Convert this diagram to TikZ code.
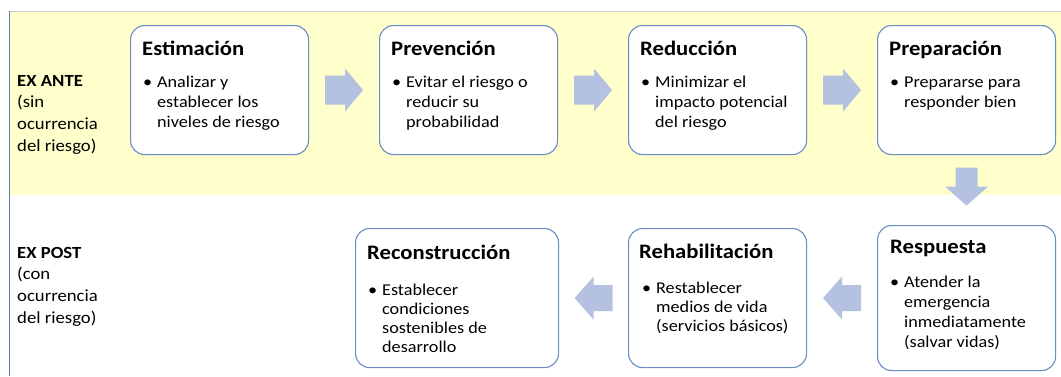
\documentclass[tikz,border=0pt]{standalone}
\usepackage{fontspec}
\setmainfont{Carlito}[FakeStretch=1.1]
\usetikzlibrary{calc}
\definecolor{bandyellow}{HTML}{FFFFCC}
\definecolor{boxline}{HTML}{6A8CC7}
\definecolor{arrowfill}{HTML}{B4C1E0}
\definecolor{topline}{HTML}{C3CFCF}
\definecolor{leftline}{HTML}{5B7BB0}
\newcommand\bulitem[1]{\parbox[t]{175pt}{\hangindent=14pt\hangafter=1\noindent\makebox[14pt][l]{\textbullet}#1}}
\newcommand\sidelabel[1]{\parbox[t]{100pt}{#1}}
\tikzset{
  stagebox/.style={draw=boxline, line width=1.1pt, rounded corners=14pt, fill=white,
    anchor=north west, inner sep=0pt},
  titletext/.style={anchor=base west, inner sep=0pt, font=\fontsize{20.6}{23}\selectfont\bfseries},
  bullettext/.style={anchor=base west, inner sep=0pt, font=\fontsize{16.5}{20}\selectfont},
  sidetext/.style={anchor=base west, inner sep=0pt, font=\fontsize{17}{21.8}\selectfont},
  rarr/.pic={\fill[arrowfill] (-19,-14.5) -- (1,-14.5) -- (1,-21.5) -- (19,0) -- (1,21.5) -- (1,14.5) -- (-19,14.5) -- cycle;},
  larr/.pic={\fill[arrowfill] (19,-13) -- (0,-13) -- (0,-21.5) -- (-19,0) -- (0,21.5) -- (0,13) -- (19,13) -- cycle;},
  darr/.pic={\fill[arrowfill] (-11,-19) -- (11,-19) -- (11,0) -- (21.5,0) -- (0,19) -- (-21.5,0) -- (-11,0) -- cycle;}
}
\begin{document}
\begin{tikzpicture}[x=1pt,y=-1pt]
\useasboundingbox (0,0) rectangle (1061,376);
% background band
\fill[bandyellow] (9,11) rectangle (1061,195);
\draw[topline, line width=0.8pt] (9,11) -- (1061,11);
\draw[leftline, line width=0.9pt] (9,11) -- (9,376);

% side labels
\node[sidetext] (ante) at (17,86) {\sidelabel{\textbf{EX ANTE}\\(sin\\ocurrencia\\del riesgo)}};
\node[sidetext] (post) at (17,258) {\sidelabel{\textbf{EX POST}\\(con\\ocurrencia\\del riesgo)}};

% top row
\node[stagebox, minimum width=178pt, minimum height=129pt] (est) at (130,25) {};
\node[stagebox, minimum width=178pt, minimum height=129pt] (pre) at (379,25) {};
\node[stagebox, minimum width=178pt, minimum height=129pt] (red) at (628,25) {};
\node[stagebox, minimum width=178pt, minimum height=129pt] (prep) at (877,25) {};
% bottom row
\node[stagebox, minimum width=178pt, minimum height=145pt] (resp) at (877,225) {};
\node[stagebox, minimum width=178pt, minimum height=139pt] (reha) at (628,228) {};
\node[stagebox, minimum width=203pt, minimum height=139pt] (reco) at (355,228) {};

% texts
\node[titletext] (estT) at ($(est.north west)+(12,30)$) {Estimación};
\node[bullettext] (estB) at ($(est.north west)+(13,62)$) {\bulitem{Analizar y\\establecer los\\niveles de riesgo}};
\node[titletext] (preT) at ($(pre.north west)+(12,30)$) {Prevención};
\node[bullettext] (preB) at ($(pre.north west)+(13,62)$) {\bulitem{Evitar el riesgo o\\reducir su\\probabilidad}};
\node[titletext] (redT) at ($(red.north west)+(12,30)$) {Reducción};
\node[bullettext] (redB) at ($(red.north west)+(13,62)$) {\bulitem{Minimizar el\\impacto potencial\\del riesgo}};
\node[titletext] (prepT) at ($(prep.north west)+(12,30)$) {Preparación};
\node[bullettext] (prepB) at ($(prep.north west)+(13,62)$) {\bulitem{Prepararse para\\responder bien}};
\node[titletext] (respT) at ($(resp.north west)+(13,28)$) {Respuesta};
\node[bullettext] (respB) at ($(resp.north west)+(13,62)$) {\bulitem{Atender la\\emergencia\\inmediatamente\\(salvar vidas)}};
\node[titletext] (rehaT) at ($(reha.north west)+(11,30)$) {Rehabilitación};
\node[bullettext, font=\fontsize{16.5}{19}\selectfont] (rehaB) at ($(reha.north west)+(14,65)$) {\bulitem{Restablecer\\medios de vida\\(servicios básicos)}};
\node[titletext] (recoT) at ($(reco.north west)+(12,31)$) {Reconstrucción};
\node[bullettext, font=\fontsize{16.5}{19}\selectfont] (recoB) at ($(reco.north west)+(13,67)$) {\bulitem{Establecer\\condiciones\\sostenibles de\\desarrollo}};

% block arrows
\path (est.east) -- (pre.west) coordinate[midway] (m1);
\path (pre.east) -- (red.west) coordinate[midway] (m2);
\path (red.east) -- (prep.west) coordinate[midway] (m3);
\path (prep.south) -- (resp.north) coordinate[pos=0.45] (m4);
\path (resp.west) -- (reha.east) coordinate[midway] (m5);
\path (reha.west) -- (reco.east) coordinate[midway] (m6);
\pic at (m1) {rarr};
\pic at (m2) {rarr};
\pic at (m3) {rarr};
\pic at (m4) {darr};
\pic at (m5) {larr};
\pic at (m6) {larr};
\end{tikzpicture}
\end{document}
